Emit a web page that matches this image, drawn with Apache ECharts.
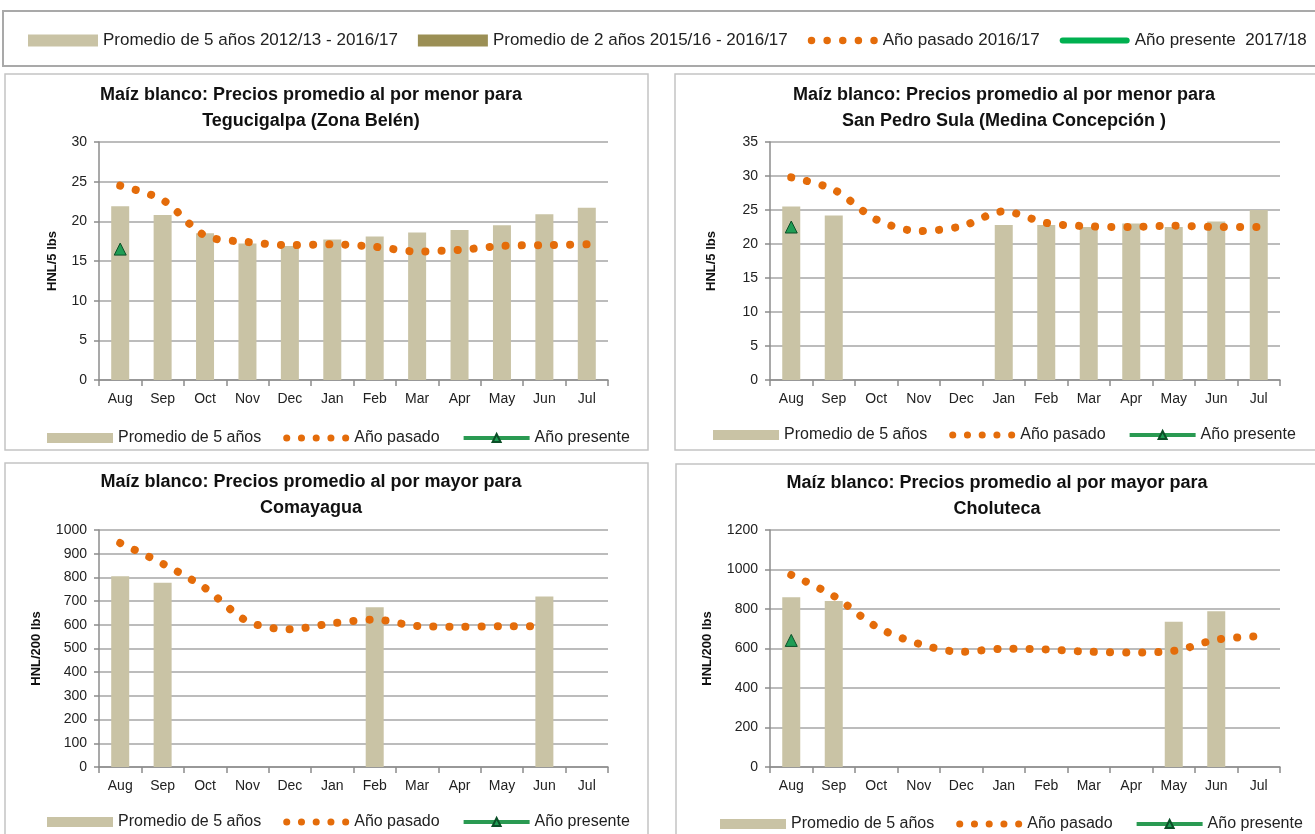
<!DOCTYPE html>
<html>
<head>
<meta charset="utf-8">
<script src="https://cdn.jsdelivr.net/npm/echarts@6/dist/echarts.min.js"></script>
<style>
  html, body { margin: 0; padding: 0; background: #fff; }
  #chart { width: 1315px; height: 834px; }
</style>
</head>
<body>
<div id="chart"></div>
<script>
const months = ['Aug', 'Sep', 'Oct', 'Nov', 'Dec', 'Jan', 'Feb', 'Mar', 'Apr', 'May', 'Jun', 'Jul']

// Tegucigalpa (HNL/5 lbs)
const tegAvg5 = [21.9, 20.8, 18.5, 17.2, 16.9, 17.7, 18.1, 18.6, 18.9, 19.5, 20.9, 21.7]
const tegLast = [24.5, 22.7, 18.2, 17.4, 17.0, 17.1, 16.8, 16.2, 16.4, 16.9, 17.0, 17.1]
const tegPresent = [16.5, null, null, null, null, null, null, null, null, null, null, null]

// San Pedro Sula (HNL/5 lbs)
const spsAvg5 = [25.5, 24.2, null, null, null, 22.8, 22.8, 22.5, 23.0, 22.5, 23.3, 25.0]
const spsLast = [29.8, 28.0, 23.6, 21.9, 22.6, 24.8, 23.1, 22.6, 22.5, 22.7, 22.5, 22.5]
const spsPresent = [22.5, null, null, null, null, null, null, null, null, null, null, null]

// Comayagua (HNL/200 lbs)
const comAvg5 = [805, 777, null, null, null, null, 674, null, null, null, 719, null]
const comLast = [945, 858, 755, 615, 581, 606, 622, 595, 592, 594, 594, null]
const comPresent = [null, null, null, null, null, null, null, null, null, null, null, null]

// Choluteca (HNL/200 lbs)
const choAvg5 = [860, 841, null, null, null, null, null, null, null, 735, 789, null]
const choLast = [973, 866, 711, 624, 583, 599, 595, 584, 580, 588, 645, 662]
const choPresent = [641, null, null, null, null, null, null, null, null, null, null, null]

const NAME_AVG5 = 'Promedio de 5 años'
const NAME_AVG2 = 'Promedio de 2 años'
const NAME_LAST = 'Año pasado'
const NAME_PRES = 'Año presente'

const topLegendText = {
  [NAME_AVG5]: 'Promedio de 5 años 2012/13 - 2016/17',
  [NAME_AVG2]: 'Promedio de 2 años 2015/16 - 2016/17',
  [NAME_LAST]: 'Año pasado 2016/17',
  [NAME_PRES]: 'Año presente  2017/18'
}

const panels = [
  { title: 'Maíz blanco: Precios promedio al por menor para\nTegucigalpa (Zona Belén)', unit: 'HNL/5 lbs', max: 30, interval: 5, avg5: tegAvg5, last: tegLast, present: tegPresent },
  { title: 'Maíz blanco: Precios promedio al por menor para\nSan Pedro Sula (Medina Concepción )', unit: 'HNL/5 lbs', max: 35, interval: 5, avg5: spsAvg5, last: spsLast, present: spsPresent },
  { title: 'Maíz blanco: Precios promedio al por mayor para\nComayagua', unit: 'HNL/200 lbs', max: 1000, interval: 100, avg5: comAvg5, last: comLast, present: comPresent },
  { title: 'Maíz blanco: Precios promedio al por mayor para\nCholuteca', unit: 'HNL/200 lbs', max: 1200, interval: 200, avg5: choAvg5, last: choLast, present: choPresent }
]

// layout of each panel
const layout = [
  { grid: { left: 99, top: 142, width: 509, height: 238 }, titleX: 311, titleY: 82, nameGap: 40, legendLeft: 47, legendTop: 430, box: [5, 74, 643, 376] },
  { grid: { left: 770, top: 142, width: 510, height: 238 }, titleX: 1004, titleY: 82, nameGap: 52, legendLeft: 713, legendTop: 427, box: [675, 74, 650, 376] },
  { grid: { left: 99, top: 530, width: 509, height: 237 }, titleX: 311, titleY: 469, nameGap: 56, legendLeft: 47, legendTop: 814, box: [5, 463, 643, 380] },
  { grid: { left: 770, top: 530, width: 510, height: 237 }, titleX: 997, titleY: 470, nameGap: 56, legendLeft: 720, legendTop: 816, box: [676, 464, 650, 380] }
]

const FONT = '"Liberation Sans", Arial, sans-serif'
const BAR_COLOR = '#c9c3a5'
const AVG2_COLOR = '#9b8f55'
const LAST_COLOR = '#e46c0a'
const PRES_COLOR = '#2a9a52'
const GRID_COLOR = '#a6a6a6'
const AXIS_COLOR = '#8c8c8c'

const DOTS_ICON = 'path://M0,3a3,3 0 1,0 6,0a3,3 0 1,0 -6,0M12.5,3a3,3 0 1,0 6,0a3,3 0 1,0 -6,0M25,3a3,3 0 1,0 6,0a3,3 0 1,0 -6,0M37.5,3a3,3 0 1,0 6,0a3,3 0 1,0 -6,0M50,3a3,3 0 1,0 6,0a3,3 0 1,0 -6,0'
const BAR_LINE_ICON = 'path://M3,0L67,0A3,3 0 0 1 67,6L3,6A3,3 0 0 1 3,0Z'

const series = []
panels.forEach((p, i) => {
  series.push({
    name: NAME_AVG5,
    type: 'bar',
    xAxisIndex: i,
    yAxisIndex: i,
    barWidth: 18,
    itemStyle: { color: BAR_COLOR },
    data: p.avg5
  })
  series.push({
    name: NAME_LAST,
    type: 'line',
    xAxisIndex: i,
    yAxisIndex: i,
    smooth: 0.3,
    symbol: 'none',
    z: 3,
    itemStyle: { color: LAST_COLOR },
    lineStyle: { color: LAST_COLOR, width: 8, type: [0.1, 16], cap: 'round' },
    data: p.last
  })
  series.push({
    name: NAME_PRES,
    type: 'line',
    xAxisIndex: i,
    yAxisIndex: i,
    symbol: 'triangle',
    symbolSize: 12,
    showSymbol: true,
    z: 4,
    itemStyle: { color: '#1f9d55', borderColor: '#0b4f27', borderWidth: 1 },
    lineStyle: { color: PRES_COLOR, width: 4 },
    data: p.present
  })
})
// 2-year average: only in the shared legend, no values drawn
series.push({
  name: NAME_AVG2,
  type: 'line',
  xAxisIndex: 0,
  yAxisIndex: 0,
  itemStyle: { color: AVG2_COLOR },
  data: []
})

const panelLegends = layout.map(l => ({
  left: l.legendLeft,
  top: l.legendTop,
  padding: 0,
  itemWidth: 66,
  itemHeight: 10,
  itemGap: 22,
  selectedMode: false,
  textStyle: { fontSize: 16, color: '#222', fontFamily: FONT },
  data: [
    { name: NAME_AVG5, icon: 'rect' },
    { name: NAME_LAST, icon: DOTS_ICON },
    { name: NAME_PRES, lineStyle: { width: 4, color: PRES_COLOR } }
  ]
}))

const topLegend = {
  left: 28,
  top: 32,
  padding: 0,
  itemWidth: 70,
  itemHeight: 12,
  itemGap: 20,
  selectedMode: false,
  textStyle: { fontSize: 17, color: '#222', fontFamily: FONT },
  formatter: name => topLegendText[name],
  data: [
    { name: NAME_AVG5, icon: 'rect' },
    { name: NAME_AVG2, icon: 'rect', itemStyle: { color: AVG2_COLOR } },
    { name: NAME_LAST, icon: DOTS_ICON },
    { name: NAME_PRES, icon: BAR_LINE_ICON, itemStyle: { color: '#00b050', borderWidth: 0 } }
  ]
}

const boxes = layout.map(l => l.box).concat([[3, 11, 1330, 55]])

const option = {
  animation: false,
  backgroundColor: '#fff',
  textStyle: { fontFamily: FONT },
  graphic: boxes.map((b, k) => ({
    type: 'rect',
    silent: true,
    z: -10,
    shape: { x: b[0], y: b[1], width: b[2], height: b[3] },
    style: { fill: 'none', stroke: k === 4 ? '#a9a9a9' : '#c4c4c4', lineWidth: k === 4 ? 2 : 1.5 }
  })),
  title: panels.map((p, i) => ({
    text: p.title,
    left: layout[i].titleX,
    top: layout[i].titleY,
    textAlign: 'center',
    padding: 0,
    textStyle: { fontSize: 18, fontWeight: 'bold', color: '#111', lineHeight: 26, fontFamily: FONT }
  })),
  legend: [topLegend].concat(panelLegends),
  grid: layout.map(l => Object.assign({ containLabel: false }, l.grid)),
  xAxis: panels.map((p, i) => ({
    type: 'category',
    gridIndex: i,
    data: months,
    boundaryGap: true,
    axisLine: { lineStyle: { color: AXIS_COLOR, width: 1.5 } },
    axisTick: { show: true, length: 6, lineStyle: { color: AXIS_COLOR, width: 1.5 } },
    axisLabel: { interval: 0, margin: 12, fontSize: 14, color: '#222', fontFamily: FONT }
  })),
  yAxis: panels.map((p, i) => ({
    type: 'value',
    gridIndex: i,
    min: 0,
    max: p.max,
    interval: p.interval,
    name: p.unit,
    nameLocation: 'middle',
    nameGap: layout[i].nameGap,
    nameTextStyle: { fontSize: 13, fontWeight: 'bold', color: '#111', fontFamily: FONT },
    axisLine: { show: true, lineStyle: { color: AXIS_COLOR, width: 1.5 } },
    axisTick: { show: true, length: 5, lineStyle: { color: AXIS_COLOR, width: 1.5 } },
    axisLabel: { margin: 12, fontSize: 14, color: '#222', fontFamily: FONT, formatter: v => String(v) },
    splitLine: { show: true, lineStyle: { color: GRID_COLOR, width: 1.5 } }
  })),
  series
}

const chart = echarts.init(document.getElementById('chart'), null, { renderer: 'canvas' })
chart.setOption(option)
</script>
</body>
</html>
